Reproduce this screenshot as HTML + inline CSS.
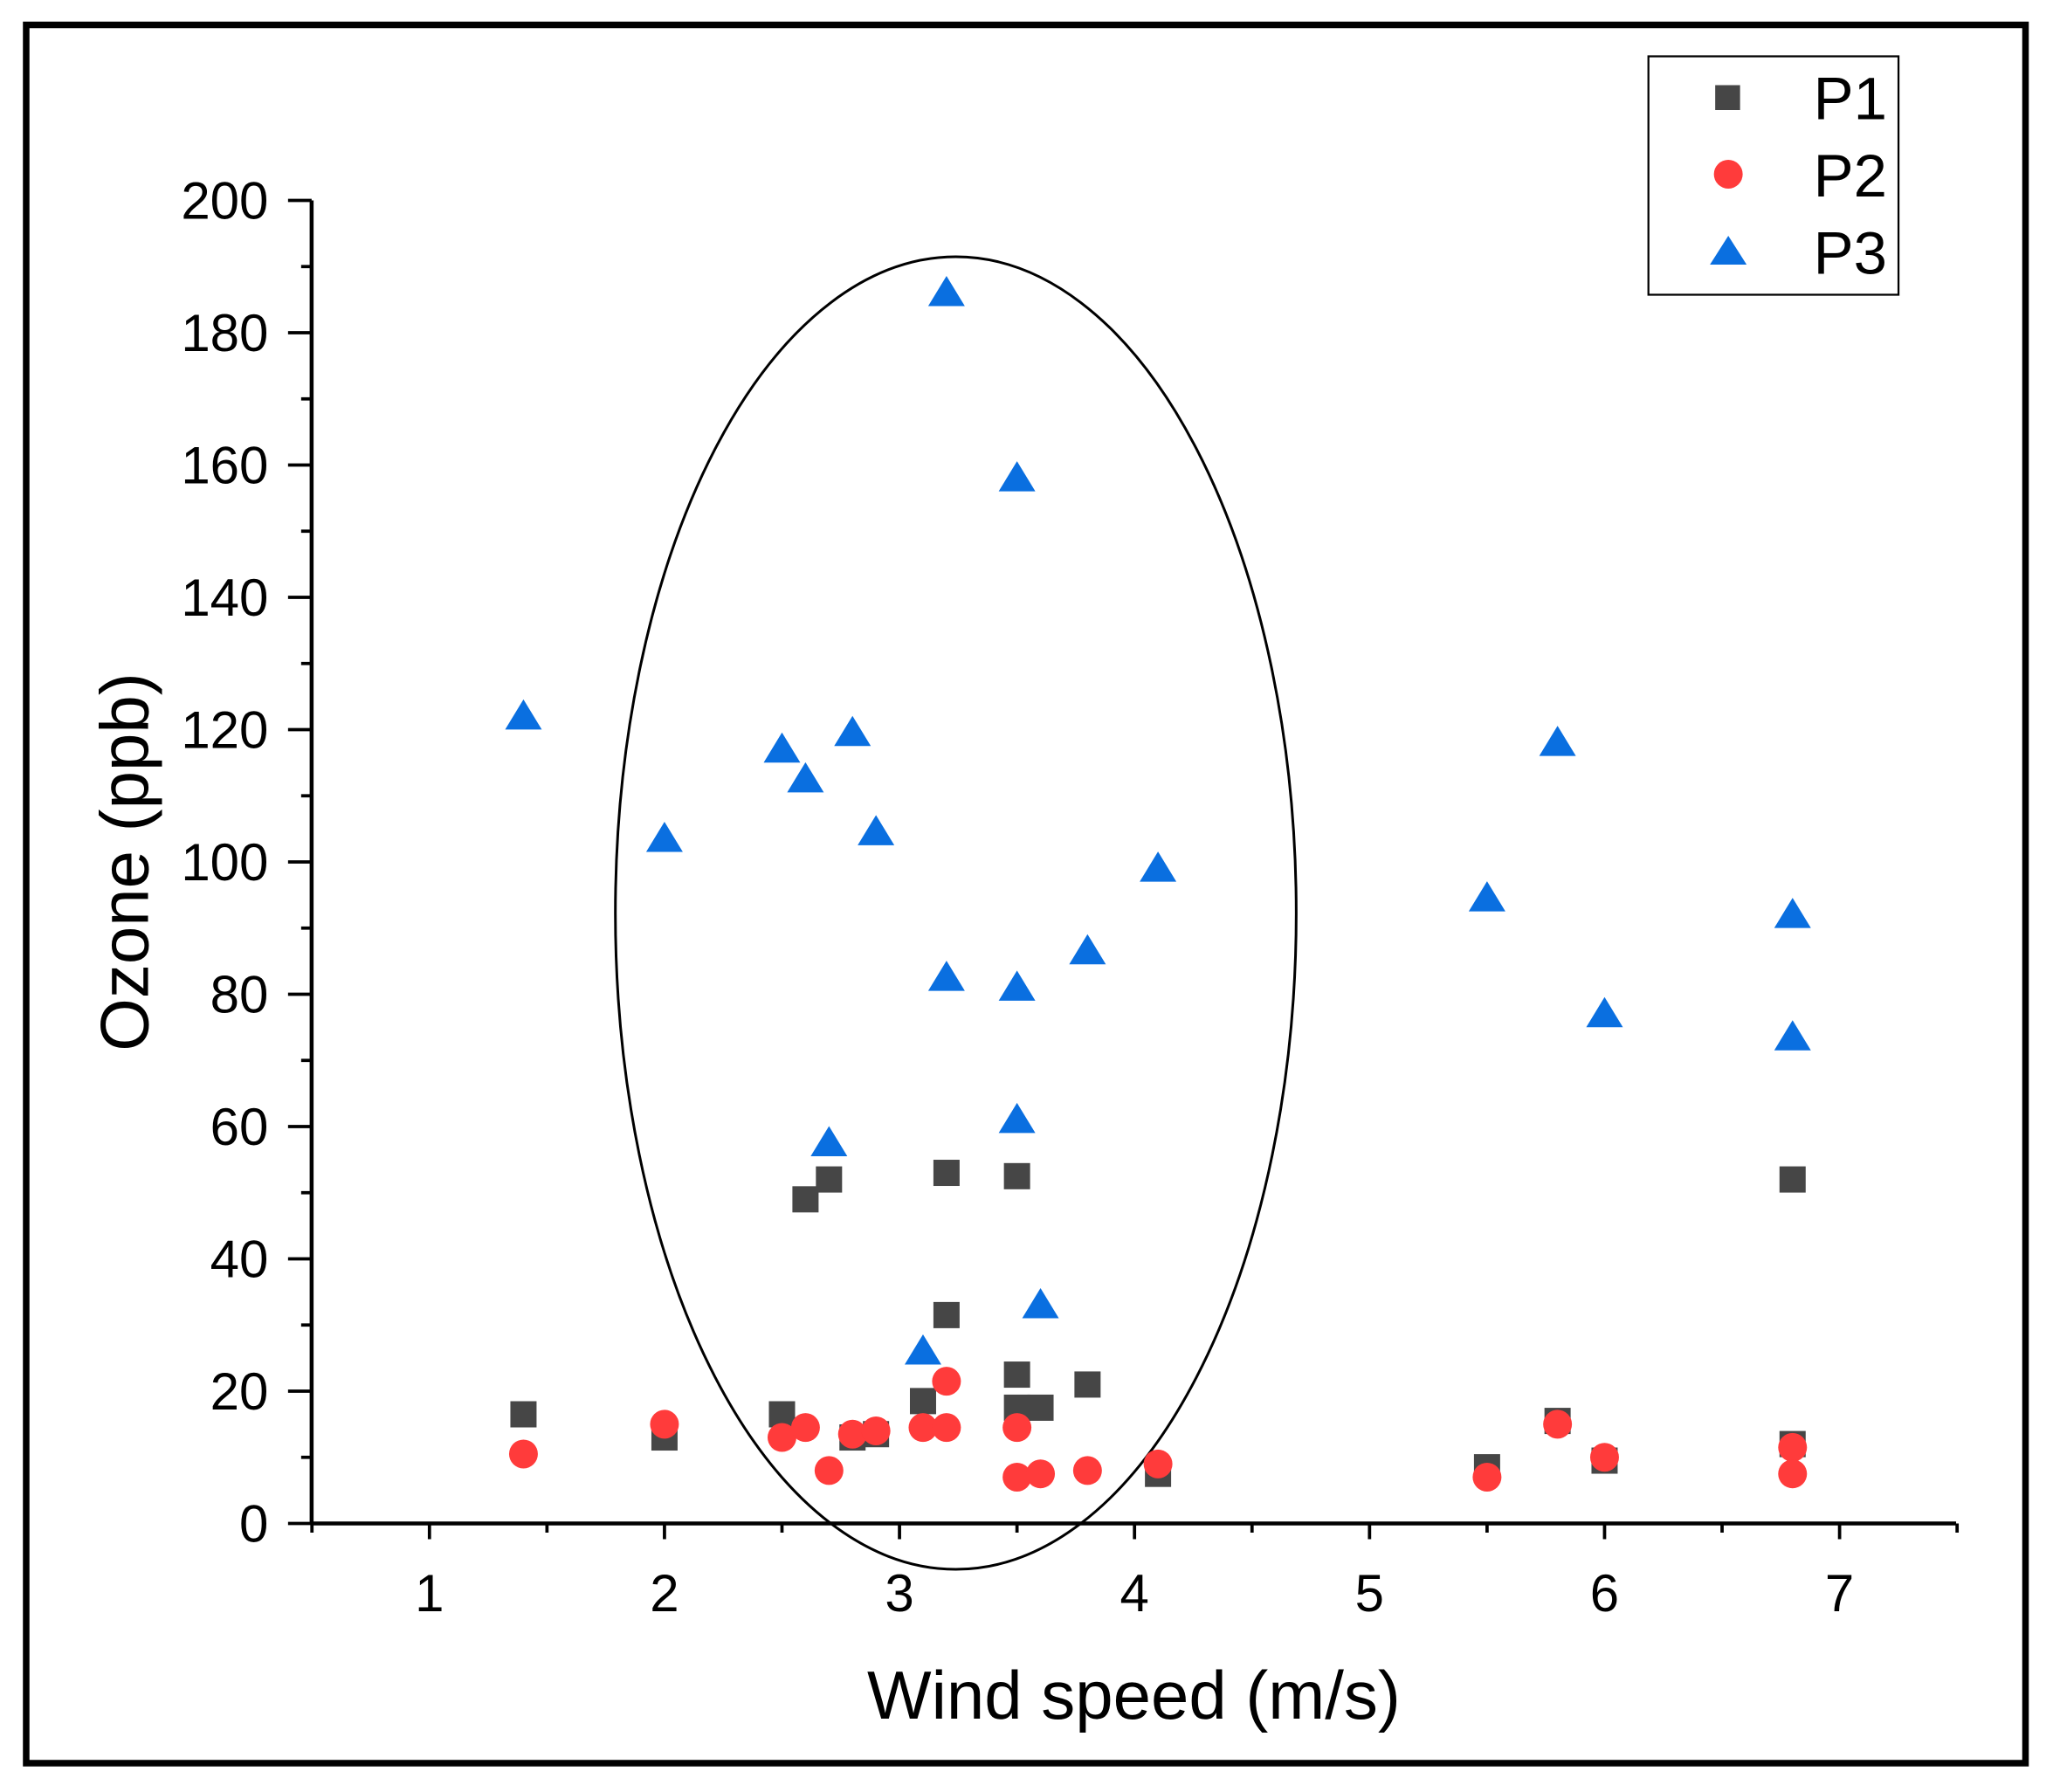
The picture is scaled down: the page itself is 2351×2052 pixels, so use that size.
<!DOCTYPE html>
<html><head><meta charset="utf-8"><style>
html,body{margin:0;padding:0;background:#fff;}
svg{display:block;}
text{font-family:"Liberation Sans",Arial,sans-serif;fill:#000;}
</style></head><body>
<svg id="chart" width="2351" height="2052" viewBox="0 0 1568 1368" preserveAspectRatio="none" xmlns="http://www.w3.org/2000/svg">
<rect x="20" y="19" width="1527" height="1327" fill="#fff" stroke="#000" stroke-width="5"/>
<g id="axes"></g>
<ellipse cx="730" cy="697" rx="260" ry="501" fill="none" stroke="#000" stroke-width="2"/>
<g id="marks"></g>
<text x="866" y="1312" font-size="52" text-anchor="middle">Wind speed (m/s)</text>
<text transform="translate(113,658) rotate(-90)" font-size="52" text-anchor="middle">Ozone (ppb)</text>
<g>
<rect x="1259" y="43" width="191" height="182" fill="#fff" stroke="#000" stroke-width="1.5"/>
<rect x="1310" y="65" width="19" height="19" fill="#464646"/>
<text x="1385" y="91" font-size="46">P1</text>
<circle cx="1320" cy="133" r="11" fill="#ff3b3b"/>
<text x="1385" y="150" font-size="46">P2</text>
<polygon points="1320,180 1334,202 1306,202" fill="#0a6fe0"/>
<text x="1385" y="209" font-size="46">P3</text>
</g>
</svg>
<script>
const xTicks=[1,2,3,4,5,6,7];
const yTicks=[0,20,40,60,80,100,120,140,160,180,200];
const p1x=[1.4,2,2.5,2.6,2.7,2.8,2.9,3.1,3.2,3.2,3.5,3.5,3.5,3.6,3.8,4.1,5.5,5.8,6,6.8,6.8];
const p1y=[16.5,13,16.5,49,52,13,13.5,18.5,31.5,53,22.5,52.5,17.5,17.5,21,7.5,8.5,15.5,9.5,52,12];
const p2x=[1.4,2,2.5,2.6,2.7,2.8,2.9,3.1,3.2,3.2,3.5,3.5,3.6,3.8,4.1,5.5,5.8,6,6.8,6.8];
const p2y=[10.5,15,13,14.5,8,13.5,14,14.5,21.5,14.5,14.5,7,7.5,8,9,7,15,10,11.5,7.5];
const p3x=[1.4,2,2.5,2.6,2.7,2.8,2.9,3.1,3.2,3.2,3.5,3.5,3.5,3.6,3.8,4.1,5.5,5.8,6,6.8,6.8];
const p3y=[122,103.5,117,112.5,57.5,119.5,104.5,26,186,82.5,158,81,61,33,86.5,99,94.5,118,77,92,73.5];
const NS="http://www.w3.org/2000/svg";
function X(v){return 328+(v-1)*179.5;}
function Y(v){return 1163-v*5.05;}
function mk(tag,attrs,parent){const e=document.createElementNS(NS,tag);for(const k in attrs)e.setAttribute(k,attrs[k]);parent.appendChild(e);return e;}
const ax=document.getElementById('axes');
let l=mk('line',{x1:238,y1:1163,x2:1494,y2:1163,stroke:'#000','stroke-width':3},ax);


l=mk('line',{x1:238,y1:153,x2:238,y2:1164,stroke:'#000','stroke-width':3},ax);


for(let v=0.5;v<=7.51;v+=0.5){const major=Math.abs(v-Math.round(v))<0.01;
 const t=mk('line',{x1:X(v),y1:1163,x2:X(v),y2:1163+(major?12:7),stroke:'#000','stroke-width':2.5},ax);
 
 }
xTicks.forEach(v=>{const t=mk('text',{x:X(v),y:1230,'font-size':40,'text-anchor':'middle'},ax);t.textContent=v;
 
 });
for(let v=0;v<=200;v+=10){const major=v%20===0;
 const t=mk('line',{x1:238-(major?18:8),y1:Y(v),x2:238,y2:Y(v),stroke:'#000','stroke-width':2.5},ax);
 
 }
yTicks.forEach(v=>{const t=mk('text',{x:205,y:Y(v)+14,'font-size':40,'text-anchor':'end'},ax);t.textContent=v;
 
 });
const mg=document.getElementById('marks');
p1x.forEach((x,i)=>{const e=mk('rect',{x:X(x)-10,y:Y(p1y[i])-10,width:20,height:20,fill:'#464646'},mg);
 
 });
p2x.forEach((x,i)=>{const e=mk('circle',{cx:X(x),cy:Y(p2y[i]),r:11,fill:'#ff3b3b'},mg);
 
 });
p3x.forEach((x,i)=>{const cx=X(x),cy=Y(p3y[i]);
 const e=mk('polygon',{points:`${cx},${cy-13} ${cx+14},${cy+10} ${cx-14},${cy+10}`,fill:'#0a6fe0'},mg);
 
 });
</script>
</body></html>
